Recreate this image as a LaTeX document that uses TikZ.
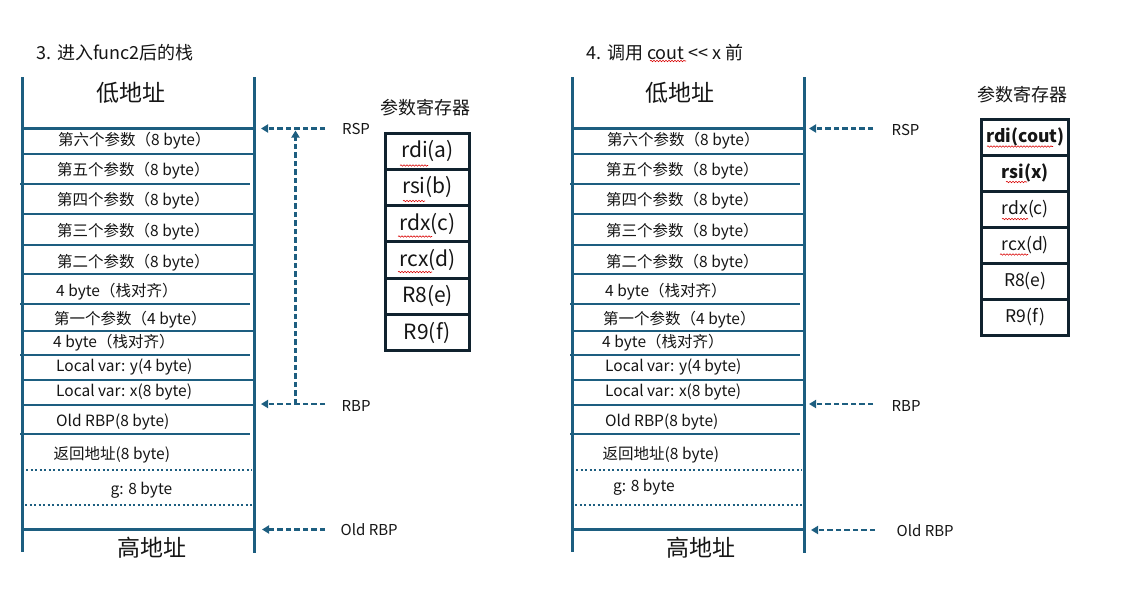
\documentclass[tikz,border=0pt]{standalone}
\usepackage{fontspec}
\setmainfont{Noto Sans CJK SC}
\usetikzlibrary{arrows.meta,decorations.pathmorphing}
\definecolor{stackblue}{HTML}{1D5E80}
\definecolor{regframe}{HTML}{10222E}
\definecolor{ink}{HTML}{151515}
\begin{document}
\begin{tikzpicture}[x=1pt,y=-1pt,
  wall/.style={stackblue,line width=3pt},
  slot/.style={stackblue,line width=2.3pt},
  slotdot/.style={stackblue,line width=2.2pt,dash pattern=on 2.2pt off 2.3pt},
  cell/.style={font=\fontsize{15.5}{17}\selectfont,text=ink,anchor=west,inner sep=0pt},
  addr/.style={font=\fontsize{23}{25}\selectfont,text=ink,inner sep=0pt},
  ptr/.style={stackblue,line width=2.2pt,dash pattern=on 5.5pt off 3pt,-{Triangle[length=7pt,width=8pt]}},
  ptrlab/.style={font=\fontsize{15}{17}\selectfont,text=ink,anchor=west,inner sep=0pt},
  heading/.style={font=\fontsize{18}{20}\selectfont,text=ink,anchor=west,inner sep=0pt},
  regtitle/.style={font=\fontsize{18}{20}\selectfont,text=ink,inner sep=0pt},
  regbox/.style={draw=regframe,line width=3pt,minimum width=84pt,inner sep=0pt,text=ink},
  squig/.style={red!85!black,line width=0.6pt,decorate,decoration={snake,amplitude=0.7pt,segment length=3pt}},
]
\useasboundingbox (0,0) rectangle (1122,605);

% ---------- two stack frames ----------
\foreach \dx/\p in {0/L,550/R}{
  \draw[wall] (22+\dx,77) -- (22+\dx,552);
  \draw[wall] (254+\dx,77) -- (254+\dx,553);
  \foreach \y/\a/\b in {128.5/22/254, 154/22/254, 184/20/250, 213.7/22/254,
      245/22/254, 274.3/22/254, 303.7/20/250, 330.7/22/254, 355/20/250,
      379.7/22/254, 405.3/22/254, 434/20/250, 529.5/22/254}
    \draw[slot] (\a+\dx,\y) -- (\b+\dx,\y);
  \draw[slotdot] (26+\dx,470) -- (252+\dx,470);
  \draw[slotdot] (25+\dx,505) -- (252+\dx,505);
}

% ---------- slot labels ----------
\foreach \dx/\p in {0/L,549/R}{
  \foreach \x/\y/\t [count=\i] in {58/141/第六个参数（8 byte）,
      57/170.5/第五个参数（8 byte）, 57/201/第四个参数（8 byte）,
      57/232/第三个参数（8 byte）, 57/263/第二个参数（8 byte）,
      56/292/4 byte（栈对齐）, 54/319.5/第一个参数（4 byte）,
      53/343/4 byte（栈对齐）, 56/367/Local var: y(4 byte),
      56/392/Local var: x(8 byte), 56/421.5/Old RBP(8 byte),
      53.5/455/返回地址(8 byte)}
    \node[cell] (\p cell\i) at (\x+\dx,\y) {\t};
}
\node[cell] (gL) at (110.5,490.5) {g: 8 byte};
\node[cell] (gR) at (613,487) {g: 8 byte};

\node[addr] (lowL) at (131,93) {低地址};
\node[addr] (highL) at (151.5,548) {高地址};
\node[addr] (lowR) at (680,93) {低地址};
\node[addr] (highR) at (700.5,548) {高地址};

% ---------- headings ----------
\node[heading] (headL) at (36.5,52.5) {3. 进入func2后的栈};
\node[heading] (headR) at (586.5,52.5) {4. 调用 cout <\kern0pt< x 前};

% ---------- pointer labels and arrows, left ----------
\node[ptrlab] (rspL) at (342,129.5) {RSP};
\node[ptrlab] (rbpL) at (341.5,405.5) {RBP};
\node[ptrlab] (oldL) at (340.5,529.5) {Old RBP};
\coordinate (rspTipL) at (261,128.5);
\coordinate (rspTailL) at (325,128.5);
\coordinate (rbpTipL) at (261,404);
\coordinate (rbpTailL) at (325,404);
\coordinate (oldTipL) at (262,529.5);
\coordinate (oldTailL) at (325,529.5);
\coordinate (climbL) at (295.5,404);
\coordinate (climbTopL) at (295.5,130.5);
\draw[ptr] (rspTailL) -- (rspTipL);
\draw[ptr] (rbpTailL) -- (rbpTipL);
\draw[ptr] (oldTailL) -- (oldTipL);
\draw[ptr] (climbL) -- (climbTopL);

% ---------- pointer labels and arrows, right ----------
\node[ptrlab] (rspR) at (891.5,130) {RSP};
\node[ptrlab] (rbpR) at (891.5,405.5) {RBP};
\node[ptrlab] (oldR) at (896.5,530.5) {Old RBP};
\coordinate (rspTipR) at (809,128.5);
\coordinate (rspTailR) at (873,128.5);
\coordinate (rbpTipR) at (809,404);
\coordinate (rbpTailR) at (873,404);
\coordinate (oldTipR) at (811,530);
\coordinate (oldTailR) at (875,530);
\draw[ptr] (rspTailR) -- (rspTipR);
\draw[ptr] (rbpTailR) -- (rbpTipR);
\draw[ptr] (oldTailR) -- (oldTipR);

% ---------- argument registers, left ----------
\node[regtitle] (regTitleL) at (425.5,108) {参数寄存器};
\foreach \t [count=\i] in {rdi(a),rsi(b),rdx(c),rcx(d),R8(e),R9(f)}
  \node[regbox,minimum height=36.3pt,font=\fontsize{21}{23}\selectfont]
    (regL\i) at (427.5,133+36.3*\i-18.15) {\t};

% ---------- argument registers, right ----------
\node[regtitle] (regTitleR) at (1022.5,94.5) {参数寄存器};
\foreach \t [count=\i] in {\textbf{rdi(cout)},\textbf{rsi(x)},rdx(c),rcx(d),R8(e),R9(f)}
  \node[regbox,minimum width=87pt,minimum height=36.1pt,font=\fontsize{17.5}{19}\selectfont]
    (regR\i) at (1025.3,119+36.1*\i-18.05) {\t};

% ---------- spell-check squiggles ----------
\draw[squig] (400,165.5) -- (428,165.5);
\draw[squig] (403,201) -- (425,201);
\draw[squig] (398,236.5) -- (432,236.5);
\draw[squig] (398,272) -- (432,272);
\draw[squig] (987,146.5) -- (1053,146.5);
\draw[squig] (1006,182) -- (1027,182);
\draw[squig] (1002,219) -- (1028,219);
\draw[squig] (1000,254.5) -- (1028,254.5);
\draw[squig] (650,61) -- (686,61);
\end{tikzpicture}
\end{document}
